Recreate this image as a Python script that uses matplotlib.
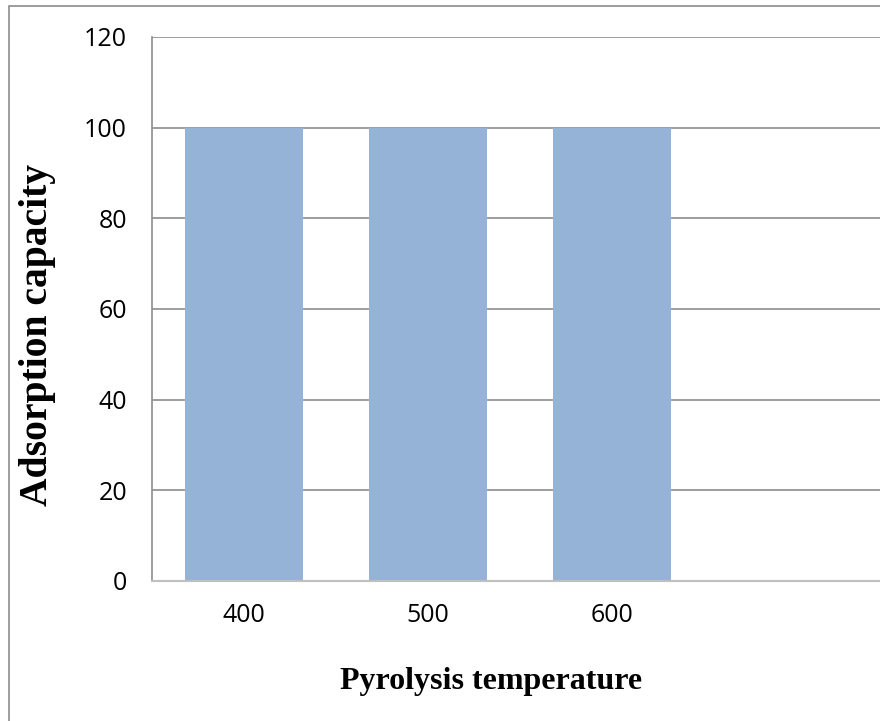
import matplotlib
matplotlib.use("Agg")
import matplotlib.pyplot as plt
from matplotlib.patches import Rectangle

categories = ["400", "500", "600", ""]
values = [100, 100, 100, 0]
y_ticks = [0, 20, 40, 60, 80, 100, 120]

W, H = 880, 721
fig = plt.figure(figsize=(W / 100, H / 100), dpi=100)

# outer chart-area border (extends past right/bottom edges like the crop)
fig.patches.append(Rectangle((9 / W, -0.1), 1.2, (H - 6) / H + 0.1,
                             transform=fig.transFigure, fill=False,
                             edgecolor="#8c8c8c", linewidth=1.2))

left, right, top, bottom = 152, 888, 37, 581
ax = fig.add_axes([left / W, (H - bottom) / H, (right - left) / W, (bottom - top) / H])

x = list(range(len(categories)))
ax.bar(x, values, width=0.645, color="#95b3d7", zorder=2)
ax.set_xlim(-0.5, len(categories) - 0.5)
ax.set_ylim(0, 120)
ax.set_yticks(y_ticks)
ax.set_yticklabels([str(t) for t in y_ticks], fontsize=18, family="Open Sans")
ax.set_xticks(x)
ax.set_xticklabels(categories, fontsize=18, family="Open Sans")
ax.tick_params(axis="y", length=0, pad=18)
ax.tick_params(axis="x", length=0, pad=16)
ax.yaxis.grid(True, color="#8c8c8c", linewidth=1.2, zorder=0)
ax.set_axisbelow(True)
for s in ["top", "right"]:
    ax.spines[s].set_visible(False)
ax.spines["left"].set_color("#8c8c8c")
ax.spines["left"].set_linewidth(1.2)
ax.spines["bottom"].set_color("#bfbfbf")
ax.spines["bottom"].set_linewidth(1.5)
ax.spines["bottom"].set_zorder(3)

fig.text(491 / W, 1 - 681 / H, "Pyrolysis temperature", ha="center", va="center",
         fontsize=23, fontweight="bold", family="Liberation Serif")
fig.text(37 / W, 1 - 335 / H, "Adsorption capacity", ha="center", va="center",
         rotation=90, fontsize=28.5, fontweight="bold", family="Liberation Serif")

fig.savefig("out.png", dpi=100)
